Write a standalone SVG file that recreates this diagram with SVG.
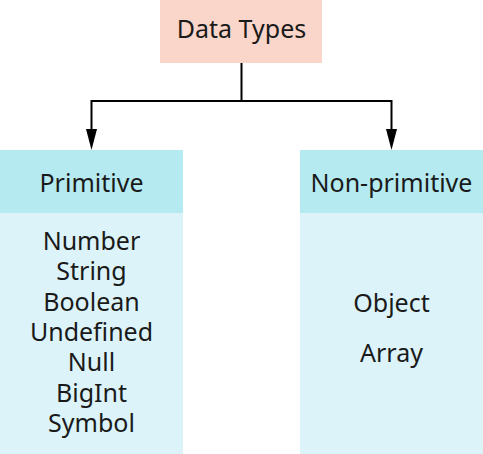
<svg xmlns="http://www.w3.org/2000/svg" width="483" height="454" viewBox="0 0 483 454">
<style>
text{font-family:"Noto Sans","Open Sans","DejaVu Sans",sans-serif;font-size:25px;fill:#1a1a1a;text-anchor:middle}
.conn{fill:none;stroke:#000;stroke-width:2}
</style>
<rect width="483" height="454" fill="#fff"/>
<g id="data-types">
<rect x="160" y="0" width="162" height="63" fill="#f9d6c9"/>
<text x="241.5" y="38">Data Types</text>
</g>
<g id="primitive">
<rect x="0" y="150" width="183" height="63" fill="#b4eaf0"/>
<rect x="0" y="213" width="183" height="241" fill="#dcf4f9"/>
<text x="91.5" y="192">Primitive</text>
<text x="91.5" y="250">Number</text>
<text x="91.5" y="280.3">String</text>
<text x="91.5" y="310.6">Boolean</text>
<text x="91.5" y="340.9">Undefined</text>
<text x="91.5" y="371.2">Null</text>
<text x="91.5" y="401.5">BigInt</text>
<text x="91.5" y="431.8">Symbol</text>
</g>
<g id="non-primitive">
<rect x="300" y="150" width="183" height="63" fill="#b4eaf0"/>
<rect x="300" y="213" width="183" height="241" fill="#dcf4f9"/>
<text x="391.5" y="192">Non-primitive</text>
<text x="391.5" y="311.5">Object</text>
<text x="391.5" y="361.5">Array</text>
</g>
<g id="connectors">
<path class="conn" d="M241.5,63 V101 M91.5,101 H391.5"/>
<path class="conn" d="M91.5,100 V130"/>
<path class="conn" d="M391.5,100 V130"/>
<path d="M86,129 L97,129 L91.5,150 Z" fill="#000"/>
<path d="M386,129 L397,129 L391.5,150 Z" fill="#000"/>
</g>
</svg>
